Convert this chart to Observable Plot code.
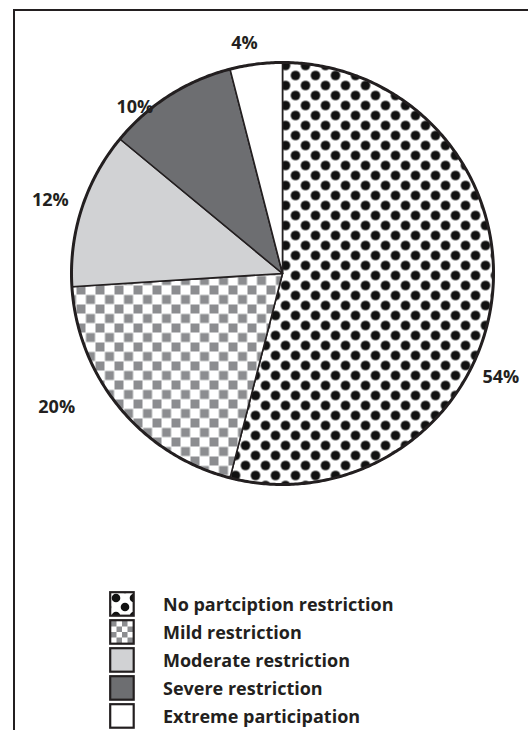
<!DOCTYPE html>
<html>
<head>
<meta charset="utf-8">
<script src="https://cdn.jsdelivr.net/npm/d3@7"></script>
<script src="https://cdn.jsdelivr.net/npm/@observablehq/plot@0.6"></script>
<style>
  html, body { margin: 0; padding: 0; background: #fff; overflow: hidden; }
  body { width: 528px; height: 730px; position: relative; font-family: "Open Sans", Lato, sans-serif; }
  #frame { position: absolute; left: 13px; top: 9px; width: 700px; height: 900px;
           border-left: 2.5px solid #231f20; border-top: 2.5px solid #231f20; }
  #chart { position: absolute; left: 0; top: 0; }
  #legend { position: absolute; left: 109px; top: 591px; }
  .row { position: absolute; left: 0; height: 26px; white-space: nowrap; }
  .row svg { position: absolute; left: 0; top: 0; }
  .row span { position: absolute; left: 54px; top: 0; line-height: 26px; font-size: 18px; font-weight: 700; color: #231f20; }
</style>
</head>
<body>
<svg width="0" height="0" style="position:absolute">
  <defs>
    <pattern id="dots" width="20" height="20" patternUnits="userSpaceOnUse">
      <rect width="20" height="20" fill="#fff"/>
      <circle cx="5" cy="5" r="4.8" fill="#111"/>
      <circle cx="15" cy="15" r="4.8" fill="#111"/>
    </pattern>
    <pattern id="dotsLegend" x="-2" y="-2" width="18" height="18" patternUnits="userSpaceOnUse">
      <rect width="18" height="18" fill="#fff"/>
      <circle cx="0" cy="0" r="4.3" fill="#111"/>
      <circle cx="18" cy="0" r="4.3" fill="#111"/>
      <circle cx="0" cy="18" r="4.3" fill="#111"/>
      <circle cx="18" cy="18" r="4.3" fill="#111"/>
      <circle cx="9" cy="9" r="4.3" fill="#111"/>
    </pattern>
    <pattern id="checks" width="19" height="19" patternUnits="userSpaceOnUse">
      <rect width="19" height="19" fill="#fff"/>
      <rect x="0" y="0" width="9" height="9" fill="#8c8d90"/>
      <rect x="9.5" y="9.5" width="9" height="9" fill="#8c8d90"/>
    </pattern>
    <pattern id="checksLegend" x="2" y="2" width="11" height="11" patternUnits="userSpaceOnUse">
      <rect width="11" height="11" fill="#fff"/>
      <rect x="0" y="0" width="5.5" height="5.5" fill="#8c8d90"/>
      <rect x="5.5" y="5.5" width="5.5" height="5.5" fill="#8c8d90"/>
    </pattern>
  </defs>
</svg>
<div id="frame"></div>
<div id="chart"></div>
<div id="legend"></div>
<script>
// ---- data ----
const categories = ["No partciption restriction", "Mild restriction", "Moderate restriction", "Severe restriction", "Extreme participation"];
const values = [54, 20, 12, 10, 4];
const labels = ["54%", "20%", "12%", "10%", "4%"];
const fills = ["url(#dots)", "url(#checks)", "#d1d2d4", "#6d6e71", "#ffffff"];
const legendFills = ["url(#dotsLegend)", "url(#checksLegend)", "#d1d2d4", "#6d6e71", "#ffffff"];

// ---- layout ----
const cx = 282, cy = 273, R = 211;
// label anchor positions in unit-circle coordinates (presentation only)
const labelPos = [[1.035, -0.49], [-1.07, -0.635], [-1.1, 0.345], [-0.70, 0.79], [-0.18, 1.09]];

const arcs = d3.pie().sort(null).startAngle(0).endAngle(2 * Math.PI)(values);
const sliceData = [];
arcs.forEach((a, i) => {
  sliceData.push({k: i, x: 0, y: 0, fill: fills[i]});
  const n = Math.max(2, Math.ceil((a.endAngle - a.startAngle) / 0.01));
  for (let j = 0; j <= n; j++) {
    const t = a.startAngle + (a.endAngle - a.startAngle) * j / n;
    sliceData.push({k: i, x: Math.sin(t), y: Math.cos(t), fill: fills[i]});
  }
});
const circle = d3.range(0, 629).map(j => ({x: Math.sin(j / 100), y: Math.cos(j / 100)}));
const labelData = labels.map((l, i) => ({label: l, x: labelPos[i][0], y: labelPos[i][1]}));

const plot = Plot.plot({
  width: 528,
  height: 500,
  margin: 0,
  x: {domain: [-1, 1], range: [cx - R, cx + R], axis: null},
  y: {domain: [-1, 1], range: [cy + R, cy - R], axis: null},
  color: {type: "identity"},
  style: {background: "transparent", fontFamily: "'Open Sans', Lato, sans-serif"},
  marks: [
    Plot.line(sliceData, {x: "x", y: "y", z: "k", fill: "fill", stroke: "#231f20", strokeWidth: 1.6, curve: "linear-closed"}),
    Plot.line(circle, {x: "x", y: "y", stroke: "#231f20", strokeWidth: 3, curve: "linear-closed"}),
    Plot.text(labelData, {x: "x", y: "y", text: "label", fontSize: 18, fontWeight: 700, fill: "#231f20"})
  ]
});
document.getElementById("chart").appendChild(plot);

// ---- legend ----
const legend = document.getElementById("legend");
categories.forEach((c, i) => {
  const row = document.createElement("div");
  row.className = "row";
  row.style.top = (i * 28) + "px";
  row.innerHTML = `<svg width="28" height="28"><rect x="1.2" y="1.2" width="23.5" height="23.5" fill="${legendFills[i]}" stroke="#231f20" stroke-width="2.2"/></svg><span>${c}</span>`;
  legend.appendChild(row);
});
</script>
</body>
</html>
